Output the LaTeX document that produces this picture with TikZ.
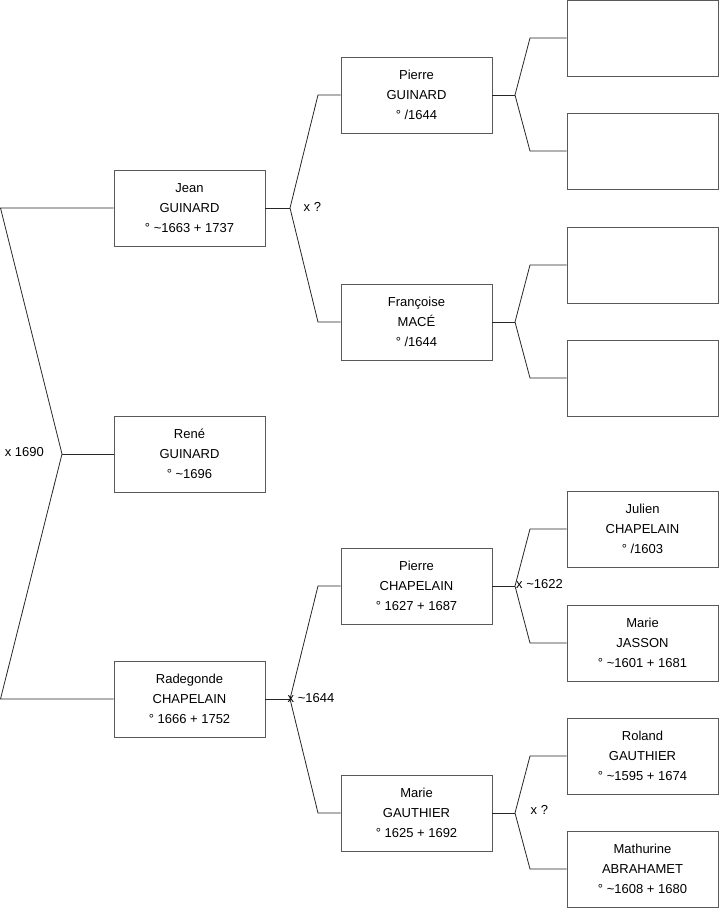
\documentclass[tikz,border=0pt]{standalone}
\usepackage{fontspec}
\setmainfont{Liberation Sans}
\begin{document}
\begin{tikzpicture}[x=1pt,y=-1pt,
  person/.style={draw=black!65,line width=0.9pt,fill=white,minimum width=151pt,minimum height=76pt,
    inner sep=0pt,align=center,font=\fontsize{13}{20}\selectfont},
  conn/.style={draw=black!85,line width=0.8pt},
  lab/.style={font=\fontsize{13}{15}\selectfont,inner sep=0pt}]
\useasboundingbox (0,0) rectangle (719,908);
% column 1
\node[person] (jean) at (189.5,208) {Jean\\GUINARD\\° \textasciitilde1663 + 1737};
\node[person] (rene) at (189.5,454) {René\\GUINARD\\° \textasciitilde1696};
\node[person] (rade) at (189.5,699) {Radegonde\\CHAPELAIN\\° 1666 + 1752};
% column 2
\node[person] (pg) at (416.5,95) {Pierre\\GUINARD\\° /1644};
\node[person] (fm) at (416.5,322) {Françoise\\MACÉ\\° /1644};
\node[person] (pc) at (416.5,586) {Pierre\\CHAPELAIN\\° 1627 + 1687};
\node[person] (mg) at (416.5,813) {Marie\\GAUTHIER\\° 1625 + 1692};
% column 3
\node[person] (e1) at (642.5,38) {};
\node[person] (e2) at (642.5,151) {};
\node[person] (e3) at (642.5,265) {};
\node[person] (e4) at (642.5,378) {};
\node[person] (jc) at (642.5,529) {Julien\\CHAPELAIN\\° /1603};
\node[person] (mj) at (642.5,643) {Marie\\JASSON\\° \textasciitilde1601 + 1681};
\node[person] (rg) at (642.5,756) {Roland\\GAUTHIER\\° \textasciitilde1595 + 1674};
\node[person] (ma) at (642.5,869) {Mathurine\\ABRAHAMET\\° \textasciitilde1608 + 1680};
% vertices
\coordinate (r0) at (0.5,208);
\coordinate (r1) at (62,454);
\coordinate (r2) at (0.5,699);
\coordinate (vj) at (290,208);
\coordinate (vj1) at (318,95);
\coordinate (vj2) at (318,322);
\coordinate (vr) at (290,699);
\coordinate (vr1) at (318,586);
\coordinate (vr2) at (318,813);
\coordinate (vpg) at (515,95);
\coordinate (vpg1) at (530,38);
\coordinate (vpg2) at (530,151);
\coordinate (vfm) at (515,322);
\coordinate (vfm1) at (530,265);
\coordinate (vfm2) at (530,378);
\coordinate (vpc) at (515,586);
\coordinate (vpc1) at (530,529);
\coordinate (vpc2) at (530,643);
\coordinate (vmg) at (515,813);
\coordinate (vmg1) at (530,756);
\coordinate (vmg2) at (530,869);
% connectors
\draw[conn] (jean.west) -- (r0) -- (r1) -- (r2) -- (rade.west);
\draw[conn] (r1) -- (rene.west);
\draw[conn] (jean.east) -- (vj);
\draw[conn] (pg.west) -- (vj1) -- (vj) -- (vj2) -- (fm.west);
\draw[conn] (rade.east) -- (vr);
\draw[conn] (pc.west) -- (vr1) -- (vr) -- (vr2) -- (mg.west);
\draw[conn] (pg.east) -- (vpg);
\draw[conn] (e1.west) -- (vpg1) -- (vpg) -- (vpg2) -- (e2.west);
\draw[conn] (fm.east) -- (vfm);
\draw[conn] (e3.west) -- (vfm1) -- (vfm) -- (vfm2) -- (e4.west);
\draw[conn] (pc.east) -- (vpc);
\draw[conn] (jc.west) -- (vpc1) -- (vpc) -- (vpc2) -- (mj.west);
\draw[conn] (mg.east) -- (vmg);
\draw[conn] (rg.west) -- (vmg1) -- (vmg) -- (vmg2) -- (ma.west);
% labels
\node[lab,anchor=east] (l1) at (44,452) {x 1690};
\node[lab,anchor=west] (l2) at (303.5,207) {x ?};
\node[lab,anchor=west] (l3) at (287.5,698) {x \textasciitilde1644};
\node[lab,anchor=west] (l4) at (516,584) {x \textasciitilde1622};
\node[lab,anchor=west] (l5) at (530.5,810) {x ?};
\end{tikzpicture}
\end{document}
